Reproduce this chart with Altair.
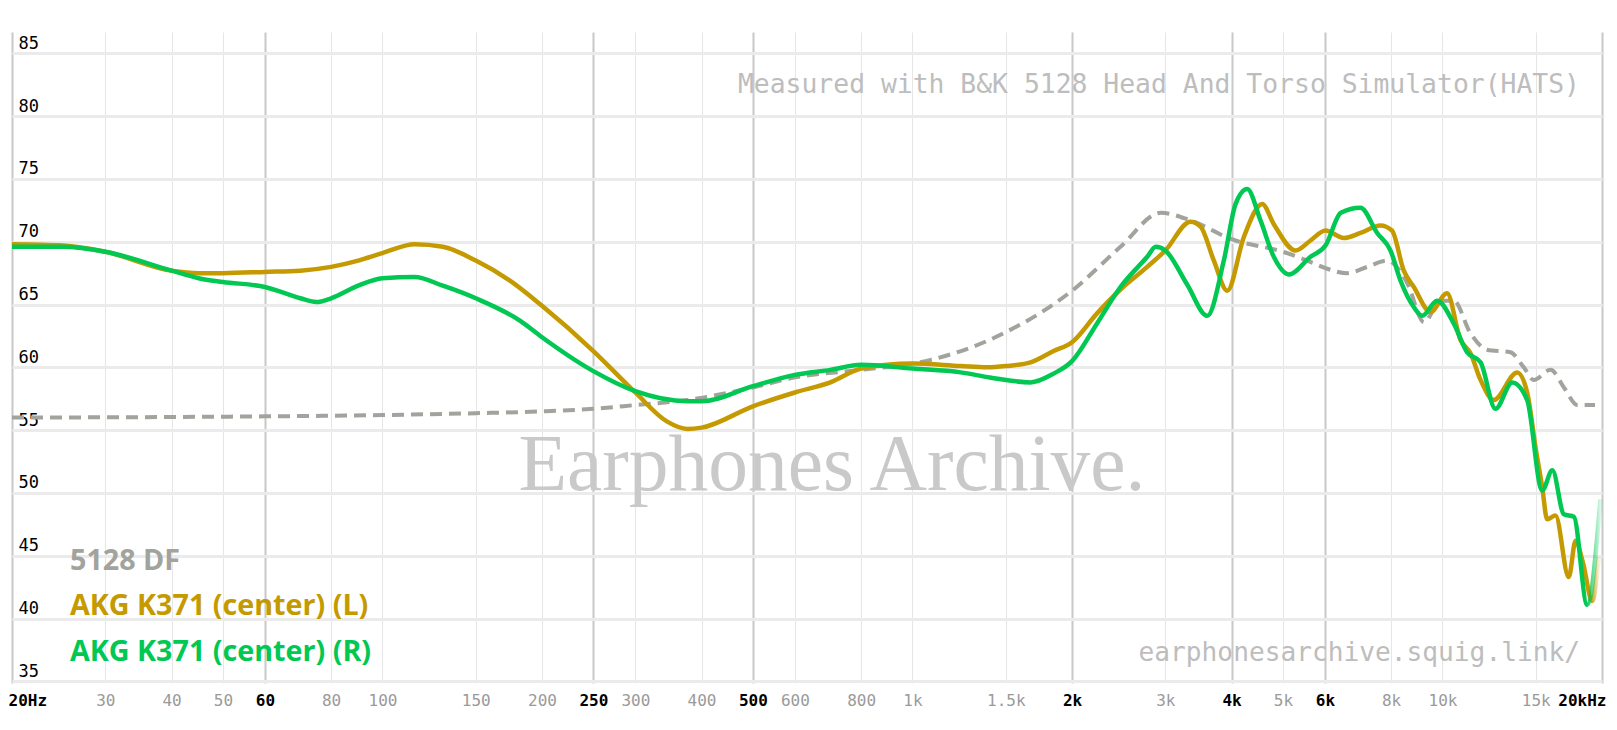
import altair as alt
import pandas as pd

# ---------------- data ----------------
df_freq = [20, 60, 100, 150, 200, 250, 300, 376, 500, 600, 800, 1000, 1082, 1500,
           2000, 2469, 2940, 3346, 4000, 5000, 5557, 6016, 6612, 7213, 7866, 8583,
           9230, 9910, 10500, 11300, 12140, 13430, 14240, 14870, 15990, 16950,
           17960, 19400]
df_db = [56.0, 56.1, 56.2, 56.35, 56.5, 56.7, 57.0, 57.4, 58.4, 59.2, 59.8, 60.3,
         60.6, 62.8, 66.1, 69.6, 72.3, 71.7, 70.2, 69.2, 68.5, 67.9, 67.5, 68.0,
         68.5, 66.7, 63.6, 65.3, 65.3, 62.7, 61.4, 61.2, 60.0, 59.0, 59.8, 58.4,
         57.0, 57.0]

l_freq = [20, 25, 30, 40, 45, 50, 60, 70, 80, 90, 100, 115, 130, 150, 174, 200,
          250, 300, 344, 376, 400, 500, 600, 700, 800, 1000, 1233, 1384, 1500,
          1670, 1846, 2000, 2230, 2469, 2773, 3000, 3346, 3496, 3704, 3926, 4221,
          4571, 4806, 5282, 5636, 6016, 6516, 7003, 7639, 8030, 8453, 8830, 9495,
          10200, 10810, 11300, 11800, 12500, 13840, 14450, 15000, 15420, 15760,
          16340, 17310, 17830, 18400, 19170, 19730]
l_db = [69.8, 69.7, 69.2, 67.7, 67.5, 67.5, 67.6, 67.7, 68.0, 68.5, 69.1, 69.8,
        69.6, 68.5, 66.9, 64.9, 61.3, 58.0, 55.7, 55.1, 55.2, 56.9, 58.0, 58.8,
        59.9, 60.3, 60.1, 60.0, 60.1, 60.4, 61.3, 62.0, 64.3, 66.2, 68.0, 69.3,
        71.6, 71.2, 68.5, 66.1, 70.4, 73.0, 71.4, 69.3, 70.1, 70.9, 70.3, 70.7,
        71.3, 70.9, 67.7, 66.4, 64.4, 65.9, 62.2, 61.1, 59.0, 57.4, 59.6, 58.0,
        53.5, 50.5, 47.9, 48.2, 43.3, 46.2, 44.5, 41.4, 44.9]

r_freq = [20, 25, 30, 40, 45, 50, 60, 70, 75, 80, 90, 100, 115, 130, 150, 182,
          200, 250, 300, 376, 400, 500, 600, 700, 800, 1000, 1233, 1400, 1670,
          1846, 2000, 2230, 2469, 2773, 2878, 3000, 3298, 3599, 3868, 4070, 4281,
          4536, 4806, 5130, 5636, 6016, 6431, 7003, 7530, 7980, 8335, 8830, 9160,
          9770, 10500, 11130, 11800, 12590, 13540, 14450, 15420, 16120, 16950,
          17700, 18750, 19870]
r_db = [69.6, 69.6, 69.2, 67.7, 67.1, 66.8, 66.4, 65.5, 65.2, 65.5, 66.5, 67.1,
        67.2, 66.5, 65.5, 63.7, 62.4, 59.7, 58.1, 57.3, 57.3, 58.5, 59.4, 59.8,
        60.2, 59.9, 59.6, 59.2, 58.8, 59.5, 60.5, 63.5, 66.4, 68.8, 69.6, 69.3,
        66.6, 64.1, 68.5, 73.0, 74.2, 71.7, 68.8, 67.4, 68.8, 69.7, 72.3, 72.7,
        70.7, 69.3, 66.9, 64.8, 64.1, 65.3, 63.5, 61.2, 60.4, 56.7, 58.8, 57.4,
        50.2, 51.8, 48.3, 48.1, 41.1, 49.5]

series_names = ["5128 DF", "AKG K371 (center) (L)", "AKG K371 (center) (R)"]
series_colors = ["#a1a39d", "#c49a00", "#00c853"]

x_ticks = [20, 30, 40, 50, 60, 80, 100, 150, 200, 250, 300, 400, 500, 600, 800,
           1000, 1500, 2000, 3000, 4000, 5000, 6000, 8000, 10000, 15000, 20000]
major_ticks = [20, 60, 250, 500, 2000, 4000, 6000, 20000]
y_ticks = [35, 40, 45, 50, 55, 60, 65, 70, 75, 80, 85]

measured_text = "Measured with B&K 5128 Head And Torso Simulator(HATS)"
site_text = "earphonesarchive.squig.link/"
watermark_text = "Earphones Archive."

# ---------------- table ----------------
rows = []
for name, fr, db in zip(series_names, [df_freq, l_freq, r_freq], [df_db, l_db, r_db]):
    for f, d in zip(fr, db):
        rows.append({"series": name, "freq": f, "db": d})
data = pd.DataFrame(rows)

major_js = "[" + ",".join(str(v) for v in major_ticks) + "]"
is_major = f"indexof({major_js}, datum.value) >= 0"

x_axis = alt.Axis(
    values=x_ticks,
    labelExpr=("datum.value == 20 ? '20Hz' : datum.value == 20000 ? '20kHz' : "
               "datum.value >= 1000 ? (datum.value / 1000) + 'k' : datum.value + ''"),
    grid=True,
    gridColor=alt.ExprRef(expr=f"{is_major} ? '#c8c8c8' : '#e6e6e6'"),
    gridWidth=alt.ExprRef(expr=f"{is_major} ? 2 : 1"),
    domain=False, ticks=False, tickSize=0,
    labelPadding=9, labelFont="DejaVu Sans Mono", labelFontSize=16,
    labelColor=alt.ExprRef(expr=f"{is_major} ? '#000000' : '#9a9a9a'"),
    labelFontWeight=alt.ExprRef(expr=f"{is_major} ? 'bold' : 'normal'"),
    labelOverlap=False, labelBound=False, labelFlush=True, labelFlushOffset=4,
    title=None,
)
y_axis = alt.Axis(
    values=y_ticks, grid=True, gridColor="#ebebeb", gridWidth=3,
    domain=False, ticks=False, tickSize=0,
    labelAlign="left", labelPadding=-6, labelBaseline="alphabetic", labelOffset=-5,
    labelFont="DejaVu Sans Mono", labelFontSize=17, labelColor="#000000",
    labelOverlap=False, labelBound=False, labelFlush=False, title=None,
)

X = alt.X("freq:Q", scale=alt.Scale(type="log", domain=[20, 20000], nice=False), axis=x_axis)
Y = alt.Y("db:Q", scale=alt.Scale(domain=[34.87, 86.7], nice=False, zero=False), axis=y_axis)

base = alt.Chart(data)


def fade(color, start):
    return alt.Gradient(
        gradient="linear", x1=0, x2=1, y1=0, y2=0,
        stops=[alt.GradientStop(offset=0, color=color),
               alt.GradientStop(offset=start, color=color),
               alt.GradientStop(offset=1, color=color + "22")],
    )


df_line = base.transform_filter(alt.datum.series == series_names[0]).mark_line(
    stroke=series_colors[0], strokeWidth=4, strokeDash=[12, 7], interpolate="monotone"
).encode(x=X, y=Y, order="freq:Q")
l_line = base.transform_filter(alt.datum.series == series_names[1]).mark_line(
    stroke=fade(series_colors[1], 0.995), strokeWidth=4.5, interpolate="monotone",
    strokeJoin="round"
).encode(x=X, y=Y, order="freq:Q")
r_line = base.transform_filter(alt.datum.series == series_names[2]).mark_line(
    stroke=fade(series_colors[2], 0.991), strokeWidth=4.5, interpolate="monotone",
    strokeJoin="round"
).encode(x=X, y=Y, order="freq:Q")


def label(text, x, y, align, font, size, color, weight="normal", baseline="middle"):
    return alt.Chart(pd.DataFrame({"t": [text]})).mark_text(
        align=align, baseline=baseline, font=font, fontSize=size, color=color,
        fontWeight=weight
    ).encode(x=alt.value(x), y=alt.value(y), text="t:N")


watermark = label(watermark_text, 820, 458, "center", "Liberation Serif", 79.5, "#c9c9c9",
                  baseline="alphabetic")
measured = label(measured_text, 1568, 53, "right", "DejaVu Sans Mono", 26.4, "#bdbdbd")
site = label(site_text, 1568, 621, "right", "DejaVu Sans Mono", 26.2, "#bdbdbd")
leg = [label(n, 58, yy, "left", "Open Sans", 28.7, c, weight="bold")
       for n, c, yy in zip(series_names, series_colors, [529, 574, 620])]

chart = alt.layer(watermark, df_line, l_line, r_line, measured, site, *leg).properties(
    width=1590, height=651,
    autosize=alt.AutoSizeParams(type="none"),
    padding={"left": 4, "top": 24, "right": 7, "bottom": 30},
    background="white",
).configure_view(stroke=None)

chart.save("out.html", embed_options={"renderer": "svg", "actions": False})
